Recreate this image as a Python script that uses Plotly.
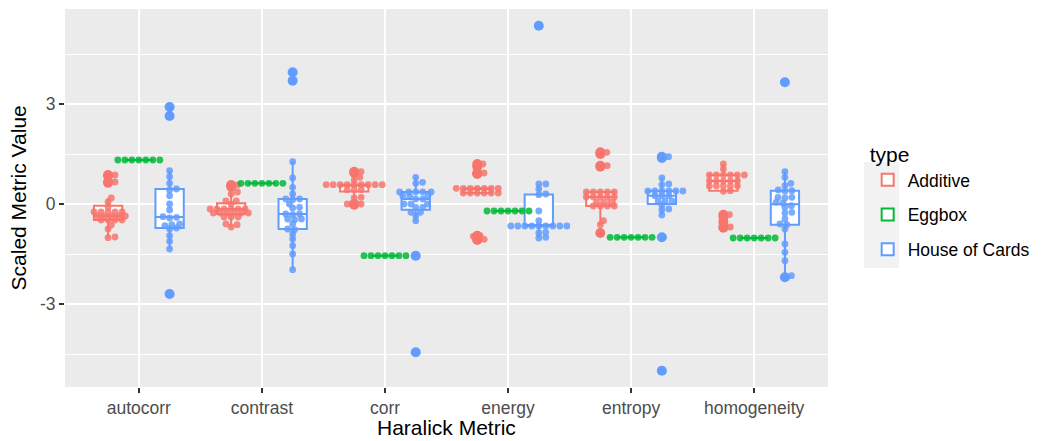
import numpy as np
import plotly.graph_objects as go

metrics = ["autocorr", "contrast", "corr", "energy", "entropy", "homogeneity"]
types = ["Additive", "Eggbox", "House of Cards"]
colors = ["#F8766D", "#00BA38", "#619CFF"]

additive = [
    [0.87, 0.85, 0.66, 0.64, 0.18, 0.06, -0.09, -0.24, -0.24, -0.24, -0.24, -0.24, -0.36, -0.36, -0.36,
     -0.36, -0.36, -0.48, -0.48, -0.48, -0.48, -0.63, -0.75, -0.99, -1.01],
    [0.57, 0.52, 0.36, 0.3, 0.09, 0.09, 0.0, -0.15, -0.15, -0.15, -0.15, -0.15, -0.15, -0.27, -0.27,
     -0.27, -0.27, -0.27, -0.27, -0.39, -0.39, -0.39, -0.6, -0.62, -0.69],
    [0.97, 0.94, 0.8, 0.72, 0.58, 0.58, 0.58, 0.58, 0.58, 0.58, 0.58, 0.58, 0.58, 0.43, 0.43, 0.43,
     0.2, 0.18, 0.0, 0.0, -0.02],
    [1.2, 1.12, 0.93, 0.9, 0.47, 0.47, 0.47, 0.47, 0.47, 0.47, 0.47, 0.33, 0.33, 0.33, 0.33, 0.33,
     0.33, -0.95, -0.97, -1.06, -1.08],
    [1.55, 1.5, 1.15, 1.12, 0.36, 0.36, 0.36, 0.36, 0.36, 0.21, 0.21, 0.21, 0.21, 0.21, 0.06, 0.06,
     0.06, -0.06, -0.06, -0.06, -0.06, -0.5, -0.62, -0.87],
    [1.2, 1.05, 0.87, 0.87, 0.87, 0.87, 0.87, 0.87, 0.69, 0.69, 0.69, 0.69, 0.69, 0.54, 0.54, 0.54,
     0.54, 0.54, 0.4, 0.38, -0.32, -0.39, -0.54, -0.69, -0.71],
]

eggbox = [
    [1.32, 1.32, 1.32, 1.32, 1.32, 1.32, 1.32],
    [0.62, 0.62, 0.62, 0.62, 0.62, 0.62, 0.62],
    [-1.55, -1.55, -1.55, -1.55, -1.55, -1.55, -1.55],
    [-0.21, -0.21, -0.21, -0.21, -0.21, -0.21, -0.21],
    [-1.0, -1.0, -1.0, -1.0, -1.0, -1.0, -1.0],
    [-1.02, -1.02, -1.02, -1.02, -1.02, -1.02, -1.02],
]

house_of_cards = [
    [2.91, 2.64, 1.0, 0.82, 0.62, 0.45, 0.42, 0.25, 0.0, -0.18, -0.38, -0.4, -0.42, -0.6, -0.62, -0.65,
     -0.72, -0.75, -0.95, -1.12, -1.35, -2.7],
    [3.95, 3.7, 1.27, 0.78, 0.5, 0.3, 0.15, 0.15, 0.13, 0.0, -0.1, -0.12, -0.3, -0.3, -0.32, -0.45,
     -0.45, -0.47, -0.6, -0.75, -0.77, -0.9, -1.05, -1.25, -1.5, -1.97],
    [0.8, 0.65, 0.62, 0.36, 0.36, 0.36, 0.36, 0.36, 0.24, 0.24, 0.22, 0.15, 0.15, 0.0, 0.0, 0.0,
     -0.1, -0.1, -0.25, -0.25, -0.35, -0.5, -1.55, -4.45],
    [5.35, 0.6, 0.6, 0.45, 0.3, 0.28, -0.21, -0.5, -0.66, -0.66, -0.66, -0.66, -0.66, -0.66, -0.66,
     -0.66, -0.66, -0.85, -0.87, -1.0, -1.02],
    [1.42, 1.38, 0.78, 0.6, 0.58, 0.39, 0.39, 0.39, 0.39, 0.39, 0.39, 0.25, 0.25, 0.25, 0.09, 0.09,
     0.09, -0.03, -0.15, -0.17, -0.33, -1.0, -5.0],
    [3.65, 0.97, 0.8, 0.62, 0.55, 0.42, 0.4, 0.38, 0.2, 0.2, 0.18, 0.05, 0.03, -0.05, -0.1, -0.25,
     -0.27, -0.45, -0.6, -0.62, -0.75, -1.2, -1.45, -1.7, -2.15, -2.2],
]

series = [additive, eggbox, house_of_cards]
dodge = [-0.25, 0.0, 0.25]

X_RANGE = [0.4, 6.6]
Y_RANGE = [-5.49, 5.85]
PLOT_W = 763.0
PLOT_H = 378.0
PX_X = PLOT_W / (X_RANGE[1] - X_RANGE[0])
PX_Y = PLOT_H / (Y_RANGE[1] - Y_RANGE[0])
SX = 7.0   # horizontal spacing between neighbouring dots (px)
SY = 4.5   # vertical spacing allowing stacking (px)


def swarm(vals):
    vals = np.asarray(vals, dtype=float)
    order = np.argsort(vals, kind="stable")
    placed = []
    offs = np.zeros(len(vals))

    def hits(c, y):
        for px, py in placed:
            if ((c - px) / SX) ** 2 + ((y - py) / SY) ** 2 < 1 - 1e-6:
                return True
        return False

    for idx in order:
        y = vals[idx] * PX_Y
        cands = [0.0]
        for px, py in placed:
            dy = (y - py) / SY
            if abs(dy) < 1:
                dx = SX * np.sqrt(1 - dy ** 2)
                cands += [px + dx, px - dx]
        cands.sort(key=abs)
        chosen = cands[-1]
        for c in cands:
            if not hits(c, y):
                chosen = c
                break
        placed.append((chosen, y))
        offs[idx] = chosen
    return offs / PX_X


fig = go.Figure()
FONT = "Liberation Sans, Arial, Helvetica, sans-serif"

for t, (name, col, data, dg) in enumerate(zip(types, colors, series, dodge)):
    for m, vals in enumerate(data):
        fig.add_trace(go.Box(
            x=[m + 1 + dg] * len(vals), y=vals, width=0.23,
            name=name, legendgroup=name, showlegend=(m == 0),
            fillcolor="white", line=dict(color=col, width=2),
            whiskerwidth=0, boxpoints="outliers", pointpos=0, jitter=0,
            marker=dict(color=col, size=10, opacity=1),
            hoverinfo="skip",
        ))

for t, (name, col, data, dg) in enumerate(zip(types, colors, series, dodge)):
    for m, vals in enumerate(data):
        offs = swarm(vals)
        fig.add_trace(go.Scatter(
            x=[m + 1 + dg + o for o in offs], y=vals, mode="markers",
            marker=dict(color=col, size=6.8, opacity=0.85, line=dict(width=0)),
            showlegend=False, legendgroup=name, hoverinfo="skip",
        ))


def px2paper_x(px):
    return (px - 65) / PLOT_W


def px2paper_y(py):
    return (387 - py) / PLOT_H


fig.update_layout(
    width=1042, height=441,
    margin=dict(l=65, r=214, t=9, b=54, autoexpand=False),
    plot_bgcolor="#EBEBEB", paper_bgcolor="white",
    boxmode="overlay",
    font=dict(family=FONT, color="black"),
    legend=dict(
        title=dict(text="type", font=dict(size=21, color="black")),
        font=dict(size=17.5, color="black"),
        x=1.052, xanchor="left", y=0.492, yanchor="middle",
        tracegroupgap=9, bgcolor="rgba(0,0,0,0)",
    ),
    shapes=[
        dict(type="rect", xref="paper", yref="paper", layer="below",
             x0=px2paper_x(864), x1=px2paper_x(899), y0=px2paper_y(162), y1=px2paper_y(268),
             fillcolor="#F2F2F2", line=dict(width=0)),
    ],
    xaxis=dict(
        range=X_RANGE, tickmode="array", tickvals=[1, 2, 3, 4, 5, 6], ticktext=metrics,
        showgrid=True, gridcolor="white", gridwidth=2.2, zeroline=False,
        ticks="outside", ticklen=5, tickwidth=2, tickcolor="#333333",
        ticklabelstandoff=0, automargin=False,
        tickfont=dict(size=17.5, color="#4D4D4D", family=FONT),
        showline=False,
    ),
    yaxis=dict(
        range=Y_RANGE, tickmode="array", tickvals=[-3, 0, 3], ticktext=["-3", "0", "3"],
        showgrid=True, gridcolor="white", gridwidth=2.2, zeroline=False,
        minor=dict(tickvals=[-4.5, -1.5, 1.5, 4.5], showgrid=True, gridcolor="white", gridwidth=1.1),
        ticks="outside", ticklen=5, tickwidth=2, tickcolor="#333333", automargin=False,
        tickfont=dict(size=17.5, color="#4D4D4D", family=FONT),
        showline=False,
    ),
    annotations=[
        dict(text="Haralick Metric", xref="paper", yref="paper", x=0.5, y=-0.107,
             xanchor="center", yanchor="middle", showarrow=False,
             font=dict(size=21, color="black", family=FONT)),
        dict(text="Scaled Metric Value", xref="paper", yref="paper", x=-0.061, y=0.5,
             xanchor="center", yanchor="middle", showarrow=False, textangle=-90,
             font=dict(size=21, color="black", family=FONT)),
    ],
)

fig.write_html("out.html")
